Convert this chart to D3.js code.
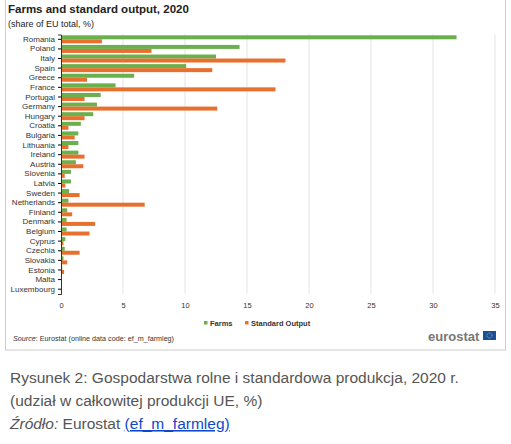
<!DOCTYPE html><html><head><meta charset="utf-8"><script src="https://cdn.jsdelivr.net/npm/d3@7"></script>
<style>body{margin:0;background:#fff;font-family:Arial,"Liberation Sans",sans-serif}</style></head><body><svg id="c" width="511" height="444"></svg>
<script>
const countries=["Romania","Poland","Italy","Spain","Greece","France","Portugal","Germany","Hungary","Croatia","Bulgaria","Lithuania","Ireland","Austria","Slovenia","Latvia","Sweden","Netherlands","Finland","Denmark","Belgium","Cyprus","Czechia","Slovakia","Estonia","Malta","Luxembourg"];
const farms=[31.9,14.4,12.5,10.1,5.9,4.4,3.2,2.9,2.6,1.6,1.4,1.4,1.4,1.2,0.8,0.8,0.65,0.6,0.5,0.45,0.45,0.35,0.3,0.2,0.1,0.05,0.03];
const output=[3.3,7.3,18.1,12.2,2.1,17.3,1.9,12.6,1.9,0.6,1.1,0.6,1.9,1.8,0.3,0.35,1.5,6.75,0.9,2.75,2.3,0.2,1.5,0.5,0.25,0.02,0.08];
const ticks=[0,5,10,15,20,25,30,35];
const svg=d3.select("#c");
svg.append("rect").attr("x",5.5).attr("y",-2).attr("width",500).attr("height",352).attr("fill","none").attr("stroke","#ccc");
svg.append("text").attr("x",8).attr("y",13).attr("font-size",11.5).attr("font-weight","bold").attr("fill","#222").text("Farms and standard output, 2020");
svg.append("text").attr("x",8).attr("y",27).attr("font-size",9).attr("fill","#222").text("(share of EU total, %)");
const x=d3.scaleLinear().domain([0,35]).range([61,495]);
const y=d3.scaleBand().domain(countries).range([34.5,294]).paddingInner(0.1).paddingOuter(0.05);
svg.append("g").selectAll("line").data(ticks.slice(1)).join("line").attr("x1",d=>x(d)).attr("x2",d=>x(d)).attr("y1",34).attr("y2",294).attr("stroke","#e3e3e3");
const g=svg.append("g");
g.selectAll(".f").data(countries).join("rect").attr("x",x(0)).attr("y",(d)=>y(d)+y.bandwidth()/2-4).attr("height",4).attr("width",(d,i)=>x(farms[i])-x(0)).attr("fill","#6ab04c");
g.selectAll(".o").data(countries).join("rect").attr("x",x(0)).attr("y",(d)=>y(d)+y.bandwidth()/2).attr("height",4).attr("width",(d,i)=>x(output[i])-x(0)).attr("fill","#e8702e");
const ay=svg.append("g").attr("transform",`translate(${x(0)},0)`).call(d3.axisLeft(y).tickSize(3));
ay.select(".domain").attr("stroke","#333");
ay.selectAll("text").attr("font-size",8).attr("fill","#333").attr("font-family","Arial,'Liberation Sans',sans-serif");
const ax=svg.append("g").attr("transform","translate(0,294)").call(d3.axisBottom(x).tickValues(ticks).tickSize(0).tickPadding(9));
ax.select(".domain").remove();
ax.selectAll("text").attr("font-size",7.5).attr("fill","#333").attr("font-family","Arial,'Liberation Sans',sans-serif");
const leg=[["Farms","#6ab04c",204],["Standard Output","#e8702e",245]];
leg.forEach(([t,c,lx])=>{svg.append("rect").attr("x",lx).attr("y",321).attr("width",3.5).attr("height",3.5).attr("fill",c);
svg.append("text").attr("x",lx+6).attr("y",325.5).attr("font-size",7.5).attr("font-weight","bold").attr("fill","#333").text(t);});
svg.append("text").attr("x",13).attr("y",341).attr("font-size",7.2).attr("fill","#333").html('<tspan font-style="italic">Source</tspan>: Eurostat (online data code: ef_m_farmleg)');
svg.append("text").attr("x",428).attr("y",341).attr("font-size",13).attr("font-weight","bold").attr("fill","#777").text("eurostat");
svg.append("rect").attr("x",483).attr("y",331).attr("width",13).attr("height",9).attr("fill","#1a4f9c");
svg.append("circle").attr("cx",489.5).attr("cy",335.5).attr("r",2.5).attr("fill","none").attr("stroke","#f5d000").attr("stroke-width",0.8).attr("stroke-dasharray","0.8 0.8");
const cap=svg.append("g").attr("font-size",15.5).attr("fill","#555");
cap.append("text").attr("x",10).attr("y",383).text("Rysunek 2: Gospodarstwa rolne i standardowa produkcja, 2020 r.");
cap.append("text").attr("x",10).attr("y",406).text("(udział w całkowitej produkcji UE, %)");
const t3=cap.append("text").attr("x",10).attr("y",429);
t3.append("tspan").attr("font-style","italic").text("Źródło:");
t3.append("tspan").text(" Eurostat ");
t3.append("tspan").attr("fill","#0e47cb").attr("text-decoration","underline").text("(ef_m_farmleg)");
</script></body></html>
